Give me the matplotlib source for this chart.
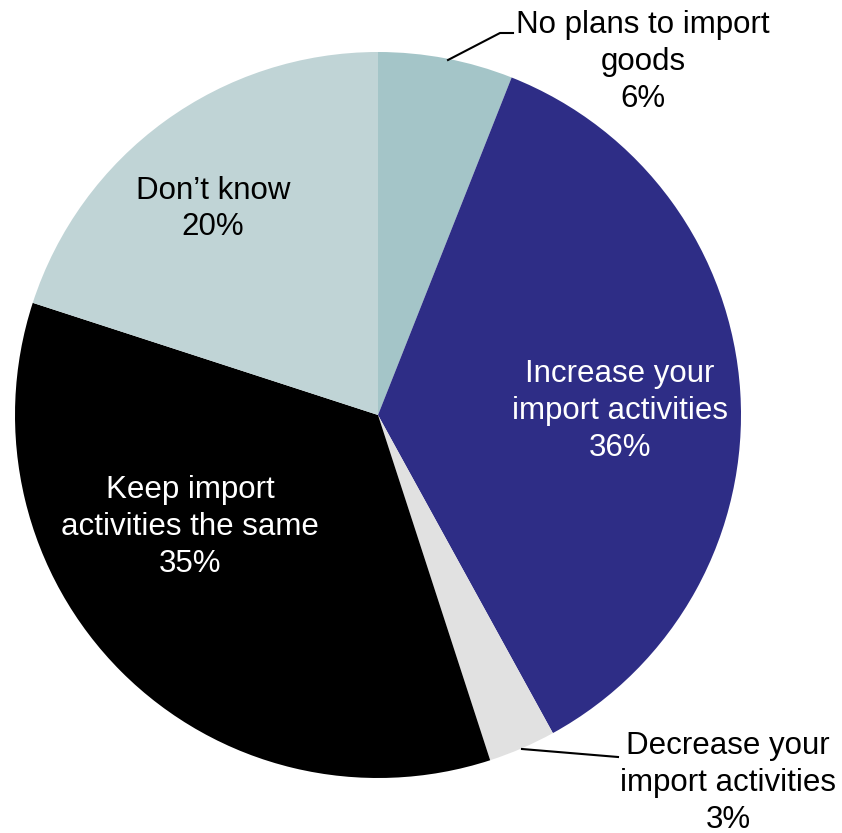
import matplotlib
matplotlib.use("Agg")
import matplotlib.pyplot as plt

plt.rcParams['font.family'] = ['Liberation Sans', 'DejaVu Sans']

# Survey answers, clockwise from the top
labels = ["No plans to import\ngoods",
          "Increase your\nimport activities",
          "Decrease your\nimport activities",
          "Keep import\nactivities the same",
          "Don\u2019t know"]
shares = [6, 36, 3, 35, 20]
colors = ['#a4c5c8', '#2e2d86', '#e1e1e1', '#000000', '#c0d4d6']

W, H = 842, 833
fig = plt.figure(figsize=(W / 100, H / 100), dpi=100)
ax = fig.add_axes([0, 0, 1, 1])

cx, cy, r = 378, H - 415, 363
ax.pie(shares, colors=colors, startangle=90, counterclock=False,
       center=(cx, cy), radius=r, frame=True,
       wedgeprops=dict(linewidth=0))
ax.set_xlim(0, W)
ax.set_ylim(0, H)
ax.set_aspect('equal')
ax.axis('off')

# label anchors (pixel coords from top-left), text colours
spots = [(643, 62, 'black'), (620, 411, 'white'), (728, 783, 'black'),
         (190, 527, 'white'), (213, 209, 'black')]
for lab, v, (x, y, c) in zip(labels, shares, spots):
    ax.text(x, H - y, f"{lab}\n{v}%", ha='center', va='center',
            fontsize=22.5, color=c, linespacing=1.3)

# leader lines for the two thin slices
ax.plot([448, 500, 513], [H - 60, H - 33, H - 33], color='black', lw=1.5)
ax.plot([522, 618], [H - 749, H - 757], color='black', lw=1.5)

fig.savefig("out.png", dpi=100)
